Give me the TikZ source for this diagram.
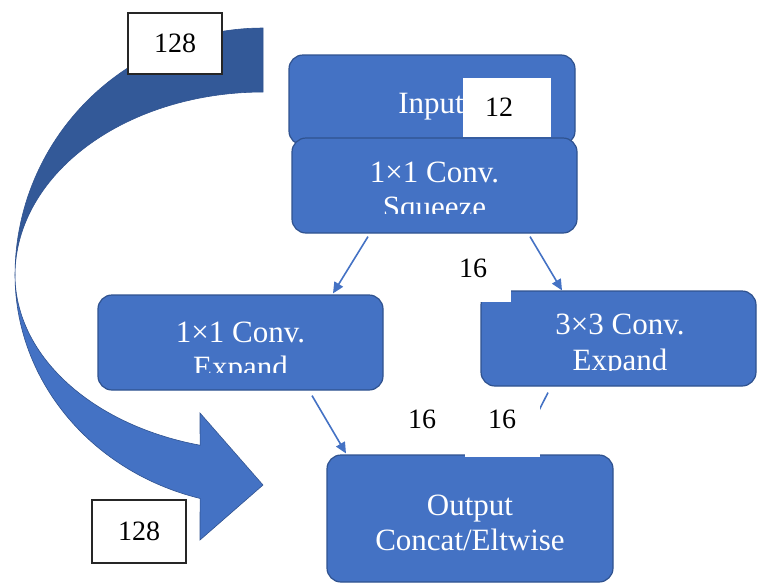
\documentclass[tikz,border=0pt]{standalone}
\usepackage{fontspec}
\setmainfont{Liberation Serif}
\usetikzlibrary{arrows.meta,calc}
\definecolor{boxblue}{HTML}{4472C4}
\definecolor{boxedge}{HTML}{2F528F}
\definecolor{darkblue}{HTML}{335998}
\begin{document}
\begin{tikzpicture}[x=1pt,y=-1pt,
  blk/.style={draw=boxedge, line width=1.2pt, fill=boxblue, rounded corners=14pt, inner sep=0pt},
  btxt/.style={text=white, font=\fontsize{31}{35}\selectfont, inner sep=0pt, anchor=base},
  lbl/.style={font=\fontsize{28}{32}\selectfont, inner sep=0pt, text=black},
  wbg/.style={fill=white, draw=none, inner sep=0pt},
  numbox/.style={draw=black!85, line width=1.2pt, fill=white, inner sep=0pt, minimum width=94pt, font=\fontsize{28}{32}\selectfont},
  conn/.style={draw=boxblue, line width=1.6pt, -{Triangle[length=11pt,width=10pt]}},
]
\useasboundingbox (0,0) rectangle (757,584);

% big curved arrow
\fill[darkblue, draw=boxedge, line width=0.6pt]
  plot[domain=90:0, samples=60] ({263-248*cos(\x)},{275-247*sin(\x)})
  -- plot[domain=0:90, samples=60] ({263-248*cos(\x)},{275-183*sin(\x)}) -- cycle;
\fill[boxblue, draw=boxedge, line width=0.6pt]
  plot[domain=0:75.3, samples=60] ({263-248*cos(\x)},{275+231*sin(\x)})
  -- (200,540) -- (263,485) -- (200,413)
  -- plot[domain=75.3:0, samples=60] ({263-248*cos(\x)},{275+176*sin(\x)}) -- cycle;

% boxes
\node[blk, minimum width=286pt, minimum height=90pt] (in) at (432,100) {};
\node[btxt] (intxt) at (431,113.5) {Input};
\node[wbg, minimum width=88pt, minimum height=59pt] (w12) at (507,107.5) {};
\node[lbl] (l12) at (499,107) {12};

\node[blk, minimum width=285pt, minimum height=95pt] (sq) at (434.5,185.5) {};
\begin{scope}
  \clip (292,138) rectangle (577,213);
  \node[btxt] (sqt1) at (434.5,182) {1×1 Conv.};
  \node[btxt] (sqt2) at (434.5,217) {Squeeze};
\end{scope}

\node[blk, minimum width=285pt, minimum height=95pt] (e1) at (240.5,342.5) {};
\begin{scope}
  \clip (98,295) rectangle (383,372);
  \node[btxt] (e1t1) at (240.5,342) {1×1 Conv.};
  \node[btxt] (e1t2) at (240.5,377) {Expand};
\end{scope}

\node[blk, minimum width=275pt, minimum height=95pt] (e3) at (618.5,338.5) {};
\begin{scope}
  \clip (481,291) rectangle (757,370);
  \node[btxt] (e3t1) at (620,334) {3×3 Conv.};
  \node[btxt] (e3t2) at (620,370) {Expand};
\end{scope}

\node[blk, minimum width=286pt, minimum height=127pt] (out) at (470,518.5) {};
\node[btxt] (ot1) at (470,515.5) {Output};
\node[btxt] (ot2) at (470,550) {Concat/Eltwise};

% connectors
\draw[conn] ([xshift=-66.5pt,yshift=-3pt]sq.south) -- ([xshift=92.5pt,yshift=1pt]e1.north);
\draw[conn] ([xshift=95.5pt,yshift=-3pt]sq.south) -- ([xshift=-56.5pt]e3.north);
\draw[conn] ([xshift=71.5pt,yshift=-5pt]e1.south) -- ([xshift=-124pt,yshift=1pt]out.north);
\draw[conn] ([xshift=-70.5pt,yshift=-6pt]e3.south) -- ([xshift=47pt,yshift=1pt]out.north);

% labels with white backgrounds
\node[wbg, minimum width=74pt, minimum height=62pt] (w16a) at (474,271) {};
\node[lbl] (l16a) at (473,268) {16};
\node[wbg, minimum width=57pt, minimum height=58pt] (w16b) at (423.5,424) {};
\node[lbl] (l16b) at (422,419) {16};
\node[wbg, minimum width=75pt, minimum height=63.5pt] (w16c) at (502.5,424.75) {};
\node[lbl] (l16c) at (502,419) {16};

\node[numbox, minimum height=61pt] (t128) at (175,43.5) {128};
\node[numbox, minimum height=63pt] (b128) at (139,531.5) {128};
\end{tikzpicture}
\end{document}
